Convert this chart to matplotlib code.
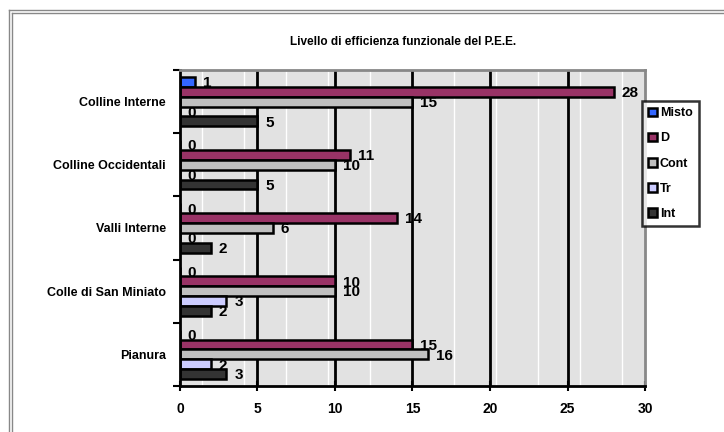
import numpy as np
import matplotlib
matplotlib.use("Agg")
import matplotlib.pyplot as plt
from matplotlib.lines import Line2D

plt.rcParams['font.family'] = ['Liberation Sans', 'DejaVu Sans']
plt.rcParams['font.weight'] = 'bold'

# data (bottom to top as drawn)
categories = ["Pianura", "Colle di San Miniato", "Valli Interne",
              "Colline Occidentali", "Colline Interne"]
series = ["Misto", "D", "Cont", "Tr", "Int"]
misto = [0, 0, 0, 0, 1]
d_vals = [15, 10, 14, 11, 28]
cont = [16, 10, 6, 10, 15]
tr = [2, 3, 0, 0, 0]
int_vals = [3, 2, 2, 5, 5]
values = [misto, d_vals, cont, tr, int_vals]
colors = ["#3366FF", "#993366", "#C0C0C0", "#CCCCFF", "#333333"]

fig = plt.figure(figsize=(7.24, 4.32), dpi=100)
ax = fig.add_axes([0.2486, 0.1065, 0.8909 - 0.2486, 0.838 - 0.1065])
ax.set_facecolor("#E2E2E2")

h = 0.156
y = np.arange(len(categories))
offsets = [2 * h, h, 0, -h, -2 * h]

# background texture and grid
for gx in np.arange(1.4, 30, 2.71):
    ax.axvline(gx, color="white", lw=1, zorder=0)
for gx in range(5, 30, 5):
    ax.axvline(gx, color="black", lw=2, zorder=1)

for vals, name, col, off in zip(values, series, colors, offsets):
    ax.barh(y + off, vals, height=h, color=col, edgecolor="black",
            linewidth=1.8, label=name, zorder=2)
    for yy, v in zip(y + off, vals):
        ax.text(v + 0.5, yy - 0.02, str(v), ha="left", va="center",
                fontsize=11, fontweight="bold", zorder=3)

ax.set_xlim(0, 30)
ax.set_ylim(-0.5, len(categories) - 0.5)
ax.set_xticks(range(0, 31, 5))
ax.tick_params(axis="x", direction="inout", length=7, width=1.5,
               labelsize=10, pad=8)
ax.set_yticks(np.arange(-0.5, len(categories), 1))
ax.set_yticklabels([])
ax.tick_params(axis="y", which="major", direction="out", length=5, width=1.5)
ax.set_yticks(y, minor=True)
ax.set_yticklabels(categories, minor=True, fontsize=9, fontweight="bold")
ax.tick_params(axis="y", which="minor", length=0, pad=10)

for s in ["left", "bottom"]:
    ax.spines[s].set_color("black")
    ax.spines[s].set_linewidth(2)
for s in ["top", "right"]:
    ax.spines[s].set_color("#888888")
    ax.spines[s].set_linewidth(2)

fig.text(0.5566, 0.903, "Livello di efficienza funzionale del P.E.E.",
         ha="center", va="center", fontsize=8.5, fontweight="bold")

leg = fig.legend(loc="upper left", bbox_to_anchor=(0.887, 0.766),
                 frameon=True, fancybox=False, edgecolor="black",
                 fontsize=9, handlelength=0.7, handleheight=0.7,
                 handletextpad=0.2, labelspacing=1.05, borderpad=0.5,
                 borderaxespad=0)
leg.get_frame().set_linewidth(1.8)
for t in leg.get_texts():
    t.set_fontweight("bold")

# outer double frame (left and top)
for fx in [9 / 724, 12 / 724]:
    fig.add_artist(Line2D([fx, fx], [0, 1 - (fx * 724 + 1) / 432], color="#888888", lw=1))
for fy in [10 / 432, 13 / 432]:
    fig.add_artist(Line2D([(fy * 432 - 1) / 724, 1], [1 - fy, 1 - fy], color="#888888", lw=1))

fig.savefig("out.png", dpi=100)
